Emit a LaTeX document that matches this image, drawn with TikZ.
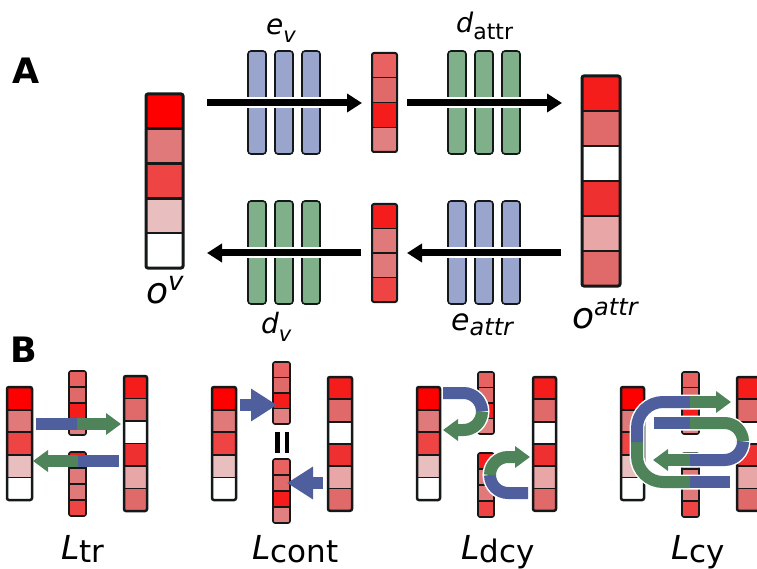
\documentclass[tikz,border=0pt]{standalone}
\usepackage{fontspec}
\setmainfont{DejaVu Sans}
\usetikzlibrary{arrows.meta}
\definecolor{rA}{HTML}{FF0000}
\definecolor{rB}{HTML}{E07A7A}
\definecolor{rC}{HTML}{EE4444}
\definecolor{rD}{HTML}{E8BEBE}
\definecolor{rE}{HTML}{E86262}
\definecolor{rF}{HTML}{E06A6A}
\definecolor{rG}{HTML}{F51C1C}
\definecolor{rH}{HTML}{E08080}
\definecolor{rI}{HTML}{EE3030}
\definecolor{rJ}{HTML}{E8A6A6}
\definecolor{edge}{HTML}{141818}
\definecolor{encblue}{HTML}{99A5CC}
\definecolor{decgreen}{HTML}{7FB08A}
\definecolor{arrblue}{HTML}{4F5E9C}
\definecolor{arrgreen}{HTML}{4F835A}
\tikzset{
  barblue/.style={fill=encblue, draw=edge, line width=1.6, rounded corners=3pt},
  bargreen/.style={fill=decgreen, draw=edge, line width=1.6, rounded corners=3pt},
  bigarrow/.style={line width=7, -{Triangle[length=15pt,width=18pt]}},
  halo/.style={white, line width=11},
  barr/.style={draw=arrblue, line width=12},
  garr/.style={draw=arrgreen, line width=12},
  tipg/.style={-{Triangle[length=15pt,width=21pt]}},
  bhalo/.style={white, line width=15},
  fatarrow/.style={draw=arrblue, line width=12, -{Triangle[length=26pt,width=31pt]}},
  lab/.style={anchor=base west, inner sep=0pt},
}
% #1 x, #2 y top, #3 width, #4 cell height, #5 cells, #6 border, #7 separator, #8 colours
\newcommand{\cellcol}[8]{%
  \begin{scope}
    \clip[rounded corners=2pt] (#1,#2) rectangle ({#1+#3},{#2+#4*#5});
    \foreach \cc [count=\ii from 0] in {#8} {
      \fill[\cc] (#1,{#2+\ii*#4}) rectangle ({#1+#3},{#2+(\ii+1)*#4});
      \ifnum\ii>0 \draw[line width=#7, draw=edge] (#1,{#2+\ii*#4}) -- ({#1+#3},{#2+\ii*#4}); \fi
    }
  \end{scope}
  \draw[line width=#6, draw=edge, rounded corners=2pt] (#1,#2) rectangle ({#1+#3},{#2+#4*#5});
}
\newcommand{\fs}[1]{\fontsize{#1}{#1}\selectfont}
\newcommand{\Llab}[1]{{\fs{33}\itshape L}\raisebox{-3pt}{\fs{31}#1}}
\begin{document}
\begin{tikzpicture}[x=1pt,y=-1pt]
\clip (0,0) rectangle (757,569);
\fill[white] (0,0) rectangle (757,569);

% ---------- Part A ----------
\node[lab, font=\fs{35}\bfseries] (labA) at (12,84) {A};
\node[lab, font=\fs{35}\bfseries] (labB) at (10,362) {B};

\cellcol{146}{94}{37}{34.8}{5}{3}{2.6}{rA,rB,rC,rD,white}
\cellcol{372}{53}{25}{24.75}{4}{2}{1.4}{rE,rF,rG,rH}
\cellcol{372}{204}{25}{24.5}{4}{2}{1.4}{rG,rB,rB,rC}
\cellcol{582}{76}{38}{35}{6}{3}{2.6}{rG,rF,white,rI,rJ,rF}

\foreach \x in {248,275,302} {
  \draw[barblue] (\x,51) rectangle ++(18,103);
  \draw[bargreen] (\x,201) rectangle ++(18,103);
}
\foreach \x in {448,475,502} {
  \draw[bargreen] (\x,51) rectangle ++(18,103);
  \draw[barblue] (\x,201) rectangle ++(18,103);
}

\coordinate (a1s) at (207,103); \coordinate (a1e) at (362,103); \coordinate (a1h) at (350,103);
\coordinate (a2s) at (407,103); \coordinate (a2e) at (562,103); \coordinate (a2h) at (550,103);
\coordinate (a3s) at (361,253); \coordinate (a3e) at (207,253); \coordinate (a3h) at (219,253);
\coordinate (a4s) at (561,253); \coordinate (a4e) at (407,253); \coordinate (a4h) at (419,253);
\foreach \s/\h in {a1s/a1h,a2s/a2h,a3s/a3h,a4s/a4h} \draw[halo] (\s) -- (\h);
\foreach \s/\e in {a1s/a1e,a2s/a2e,a3s/a3e,a4s/a4e} \draw[bigarrow] (\s) -- (\e);

\node[lab] (lev) at (266,35) {{\fs{28}\itshape e}\raisebox{-8pt}{\fs{21}\itshape v}};
\node[lab] (ldattr) at (456,33) {{\fs{27}\itshape d}\raisebox{-7pt}{\fs{22}attr}};
\node[lab] (lov) at (146,303) {{\fs{36}\itshape o}\raisebox{13pt}{\fs{26}\itshape v}};
\node[lab] (ldv) at (261,333) {{\fs{28}\itshape d}\raisebox{-8pt}{\fs{21}\itshape v}};
\node[lab] (leattr) at (451,330) {{\fs{30}\itshape e}\raisebox{-5pt}{\fs{24}\itshape attr}};
\node[lab] (loattr) at (572,328) {{\fs{36}\itshape o}\raisebox{13pt}{\fs{24}\itshape attr}};

% ---------- Part B : L_tr ----------
\cellcol{7}{387}{25}{22.6}{5}{2.5}{1.8}{rA,rB,rC,rD,white}
\cellcol{69}{371}{17}{16}{4}{1.6}{1.2}{rE,rF,rG,rH}
\cellcol{69}{452}{17}{16}{4}{1.6}{1.2}{rG,rB,rB,rC}
\cellcol{124}{376}{23}{22.5}{6}{2.5}{1.8}{rG,rF,white,rI,rJ,rF}
\draw[barr] (36,424) -- (77,424);
\draw[garr, tipg] (77,424) -- (121,424);
\draw[barr] (119,461) -- (78,461);
\draw[garr, tipg] (78,461) -- (33,461);
\node[lab] (ltr) at (61,559) {\Llab{tr}};

% ---------- L_cont ----------
\cellcol{212}{387}{24}{22.6}{5}{2.5}{1.8}{rA,rB,rC,rD,white}
\cellcol{273}{362}{17}{15.5}{4}{1.6}{1.2}{rE,rF,rG,rH}
\cellcol{273}{459}{17}{16}{4}{1.6}{1.2}{rE,rF,rG,rH}
\cellcol{328}{377}{24}{22.3}{6}{2.5}{1.8}{rG,rF,white,rI,rJ,rF}
\fill[black] (275,432) rectangle (279.5,453);
\fill[black] (284.5,432) rectangle (289,453);
\draw[fatarrow] (240,405) -- (277,405);
\draw[fatarrow] (323,483) -- (287,483);
\node[lab] (lcont) at (252,559) {\Llab{cont}};

% ---------- L_dcy ----------
\cellcol{417}{387}{23}{22.6}{5}{2.5}{1.8}{rA,rB,rC,rD,white}
\cellcol{478}{372}{16}{15.5}{4}{1.6}{1.2}{rE,rF,rG,rH}
\cellcol{478}{453}{16}{16}{4}{1.6}{1.2}{rG,rB,rB,rC}
\cellcol{533}{377}{23}{22.3}{6}{2.5}{1.8}{rG,rF,white,rI,rJ,rF}
\draw[bhalo, rounded corners=18.5pt] (443,393) -- (482,393) -- (482,430) -- (458,430);
\draw[barr, rounded corners=18.5pt] (443,393) -- (482,393) -- (482,411.5);
\draw[garr, tipg, rounded corners=18.5pt] (482,411.5) -- (482,430) -- (443,430);
\draw[bhalo, rounded corners=18pt] (528,493) -- (490,493) -- (490,457) -- (516,457);
\draw[barr, rounded corners=18pt] (528,493) -- (490,493) -- (490,475);
\draw[garr, tipg, rounded corners=18pt] (490,475) -- (490,457) -- (530,457);
\node[lab] (ldcy) at (461,559) {\Llab{dcy}};

% ---------- L_cy ----------
\cellcol{621}{387}{23}{22.6}{5}{2.5}{1.8}{rA,rB,rC,rD,white}
\cellcol{682}{372}{17}{15.5}{4}{1.6}{1.2}{rE,rF,rG,rH}
\cellcol{682}{453}{17}{16}{4}{1.6}{1.2}{rG,rB,rB,rC}
\cellcol{737}{377}{24}{22.3}{6}{2.5}{1.8}{rG,rF,white,rI,rJ,rF}
\draw[bhalo, rounded corners=26pt] (730,482) -- (637,482) -- (637,402) -- (716,402);
\draw[bhalo, rounded corners=18.5pt] (654,423) -- (743,423) -- (743,460) -- (668,460);
\draw[barr] (730,482) -- (690,482);
\draw[garr, rounded corners=26pt] (690,482) -- (637,482) -- (637,442);
\draw[barr, rounded corners=26pt] (637,442) -- (637,402) -- (690,402);
\draw[garr, tipg] (690,402) -- (731,402);
\draw[barr] (654,423) -- (690,423);
\draw[garr, rounded corners=18.5pt] (690,423) -- (743,423) -- (743,441.5);
\draw[barr, rounded corners=18.5pt] (743,441.5) -- (743,460) -- (690,460);
\draw[garr, tipg] (690,460) -- (653,460);
\node[lab] (lcy) at (671,559) {\Llab{cy}};
\end{tikzpicture}
\end{document}
